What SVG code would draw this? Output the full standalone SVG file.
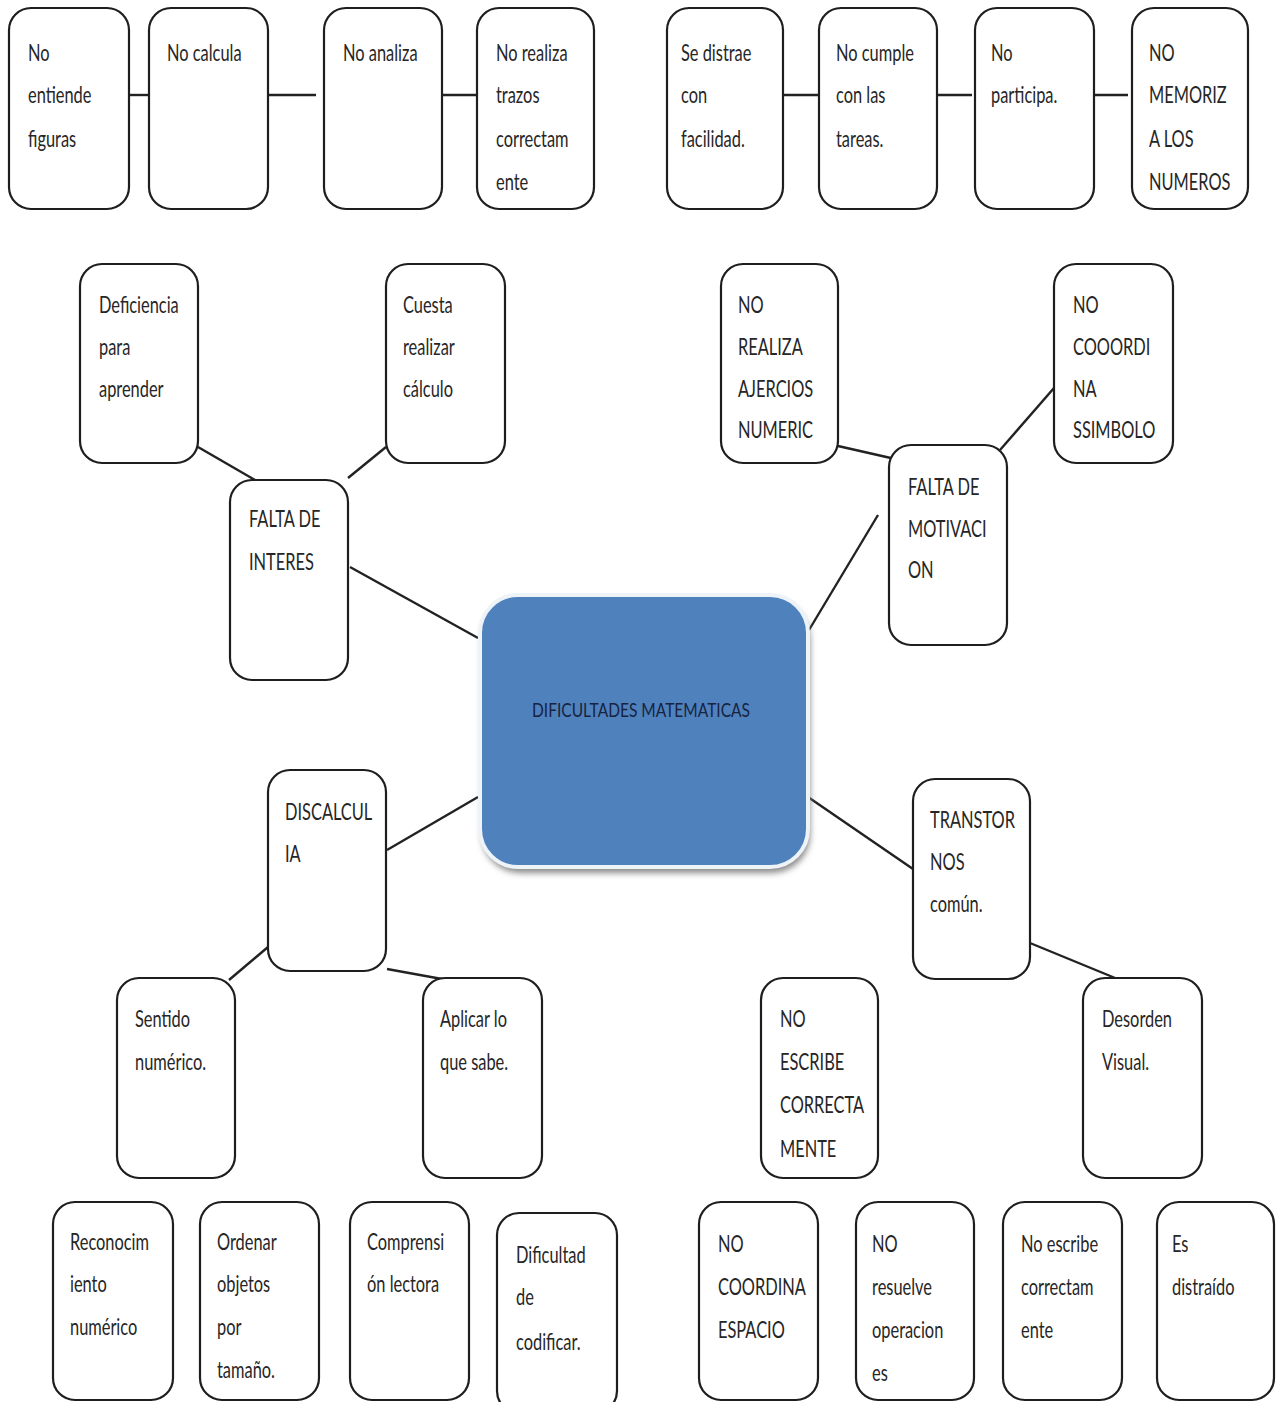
<svg xmlns="http://www.w3.org/2000/svg" width="1284" height="1402" viewBox="0 0 1284 1402">
<style>
.box{fill:#fff;stroke:#1e1e1e;stroke-width:2.2}
.t{font-family:Lato,"Liberation Sans",sans-serif;font-size:16.4px;fill:#262626}
.c{stroke:#222;stroke-width:2.4;fill:none}
.ct{font-family:Lato,"Liberation Sans",sans-serif;font-size:15px;fill:#17233f}
</style>
<defs>
<filter id="sh" x="-10%" y="-10%" width="120%" height="130%">
<feGaussianBlur stdDeviation="3"/>
</filter>
</defs>
<rect width="1284" height="1402" fill="#fff"/>
<g id="connectors">
<line class="c" x1="129" y1="95" x2="149" y2="95"/>
<line class="c" x1="268" y1="95" x2="316" y2="95"/>
<line class="c" x1="442" y1="95" x2="477" y2="95"/>
<line class="c" x1="783" y1="95" x2="819" y2="95"/>
<line class="c" x1="937" y1="95" x2="972" y2="95"/>
<line class="c" x1="1094" y1="95" x2="1128" y2="95"/>
<line class="c" x1="198" y1="447" x2="255" y2="480"/>
<line class="c" x1="386" y1="447" x2="348" y2="478"/>
<line class="c" x1="350" y1="567" x2="478" y2="638"/>
<line class="c" x1="838" y1="446" x2="904" y2="461"/>
<line class="c" x1="1000" y1="450" x2="1054" y2="388"/>
<line class="c" x1="878" y1="515" x2="809" y2="630"/>
<line class="c" x1="387" y1="850" x2="478" y2="797"/>
<line class="c" x1="229" y1="980" x2="268" y2="947"/>
<line class="c" x1="387" y1="969" x2="453" y2="981"/>
<line class="c" x1="808" y1="797" x2="913" y2="869"/>
<line class="c" x1="1030" y1="943" x2="1120" y2="980"/>
</g>
<g id="center">
<rect x="482" y="601" width="328" height="272" rx="38" fill="#8a8a8a" filter="url(#sh)"/>
<rect x="480" y="595" width="328" height="272" rx="38" fill="#4f81bd" stroke="#eef3f8" stroke-width="4"/>
<text class="ct" transform="scale(1,1.25)" x="532" y="573.6" textLength="218" lengthAdjust="spacingAndGlyphs">DIFICULTADES MATEMATICAS</text>
</g>
<g id="n1"><rect class="box" x="9" y="8" width="120" height="201" rx="22"/><text class="t" transform="scale(1,1.36)"><tspan x="28" y="44.85">No</tspan><tspan x="28" y="75.74">entiende</tspan><tspan x="28" y="108.09">figuras</tspan></text></g>
<g id="n2"><rect class="box" x="149" y="8" width="119" height="201" rx="22"/><text class="t" transform="scale(1,1.36)"><tspan x="167" y="44.85">No calcula</tspan></text></g>
<g id="n3"><rect class="box" x="324" y="8" width="118" height="201" rx="22"/><text class="t" transform="scale(1,1.36)"><tspan x="343" y="44.85">No analiza</tspan></text></g>
<g id="n4"><rect class="box" x="477" y="8" width="117" height="201" rx="22"/><text class="t" transform="scale(1,1.36)"><tspan x="496" y="44.85">No realiza</tspan><tspan x="496" y="75.74">trazos</tspan><tspan x="496" y="108.09">correctam</tspan><tspan x="496" y="139.71">ente</tspan></text></g>
<g id="n5"><rect class="box" x="667" y="8" width="116" height="201" rx="22"/><text class="t" transform="scale(1,1.36)"><tspan x="681" y="44.85">Se distrae</tspan><tspan x="681" y="75.74">con</tspan><tspan x="681" y="108.09">facilidad.</tspan></text></g>
<g id="n6"><rect class="box" x="819" y="8" width="118" height="201" rx="22"/><text class="t" transform="scale(1,1.36)"><tspan x="836" y="44.85">No cumple</tspan><tspan x="836" y="75.74">con las</tspan><tspan x="836" y="108.09">tareas.</tspan></text></g>
<g id="n7"><rect class="box" x="975" y="8" width="119" height="201" rx="22"/><text class="t" transform="scale(1,1.36)"><tspan x="991" y="44.85">No</tspan><tspan x="991" y="75.74">participa.</tspan></text></g>
<g id="n8"><rect class="box" x="1132" y="8" width="116" height="201" rx="22"/><text class="t" transform="scale(1,1.36)"><tspan x="1149" y="44.85">NO</tspan><tspan x="1149" y="75.74">MEMORIZ</tspan><tspan x="1149" y="108.09">A LOS</tspan><tspan x="1149" y="139.71">NUMEROS</tspan></text></g>
<g id="n9"><rect class="box" x="80" y="264" width="118" height="199" rx="22"/><text class="t" transform="scale(1,1.36)"><tspan x="99" y="230.15">Deficiencia</tspan><tspan x="99" y="261.03">para</tspan><tspan x="99" y="291.91">aprender</tspan></text></g>
<g id="n10"><rect class="box" x="386" y="264" width="119" height="199" rx="22"/><text class="t" transform="scale(1,1.36)"><tspan x="403" y="230.15">Cuesta</tspan><tspan x="403" y="261.03">realizar</tspan><tspan x="403" y="291.91">cálculo</tspan></text></g>
<g id="n11"><rect class="box" x="230" y="480" width="118" height="200" rx="22"/><text class="t" transform="scale(1,1.36)"><tspan x="249" y="387.5">FALTA DE</tspan><tspan x="249" y="419.12">INTERES</tspan></text></g>
<g id="n12"><rect class="box" x="721" y="264" width="117" height="199" rx="22"/><text class="t" transform="scale(1,1.36)"><tspan x="738" y="230.15">NO</tspan><tspan x="738" y="261.03">REALIZA</tspan><tspan x="738" y="291.91">AJERCIOS</tspan><tspan x="738" y="322.06">NUMERIC</tspan></text></g>
<g id="n13"><rect class="box" x="1054" y="264" width="119" height="199" rx="22"/><text class="t" transform="scale(1,1.36)"><tspan x="1073" y="230.15">NO</tspan><tspan x="1073" y="261.03">COOORDI</tspan><tspan x="1073" y="291.91">NA</tspan><tspan x="1073" y="322.06">SSIMBOLO</tspan></text></g>
<g id="n14"><rect class="box" x="889" y="445" width="118" height="200" rx="22"/><text class="t" transform="scale(1,1.36)"><tspan x="908" y="363.97">FALTA DE</tspan><tspan x="908" y="394.85">MOTIVACI</tspan><tspan x="908" y="425">ON</tspan></text></g>
<g id="n15"><rect class="box" x="268" y="770" width="118" height="201" rx="22"/><text class="t" transform="scale(1,1.36)"><tspan x="285" y="602.94">DISCALCUL</tspan><tspan x="285" y="633.82">IA</tspan></text></g>
<g id="n16"><rect class="box" x="117" y="978" width="118" height="200" rx="22"/><text class="t" transform="scale(1,1.36)"><tspan x="135" y="755.15">Sentido</tspan><tspan x="135" y="786.76">numérico.</tspan></text></g>
<g id="n17"><rect class="box" x="423" y="978" width="119" height="200" rx="22"/><text class="t" transform="scale(1,1.36)"><tspan x="440" y="755.15">Aplicar lo</tspan><tspan x="440" y="786.76">que sabe.</tspan></text></g>
<g id="n18"><rect class="box" x="913" y="779" width="117" height="200" rx="22"/><text class="t" transform="scale(1,1.36)"><tspan x="930" y="608.82">TRANSTOR</tspan><tspan x="930" y="639.71">NOS</tspan><tspan x="930" y="670.59">común.</tspan></text></g>
<g id="n19"><rect class="box" x="761" y="978" width="117" height="200" rx="22"/><text class="t" transform="scale(1,1.36)"><tspan x="780" y="755.15">NO</tspan><tspan x="780" y="786.76">ESCRIBE</tspan><tspan x="780" y="818.38">CORRECTA</tspan><tspan x="780" y="850.74">MENTE</tspan></text></g>
<g id="n20"><rect class="box" x="1083" y="978" width="119" height="200" rx="22"/><text class="t" transform="scale(1,1.36)"><tspan x="1102" y="755.15">Desorden</tspan><tspan x="1102" y="786.76">Visual.</tspan></text></g>
<g id="n21"><rect class="box" x="53" y="1202" width="120" height="198" rx="22"/><text class="t" transform="scale(1,1.36)"><tspan x="70" y="919.12">Reconocim</tspan><tspan x="70" y="950">iento</tspan><tspan x="70" y="981.62">numérico</tspan></text></g>
<g id="n22"><rect class="box" x="200" y="1202" width="119" height="198" rx="22"/><text class="t" transform="scale(1,1.36)"><tspan x="217" y="919.12">Ordenar</tspan><tspan x="217" y="950">objetos</tspan><tspan x="217" y="981.62">por</tspan><tspan x="217" y="1013.24">tamaño.</tspan></text></g>
<g id="n23"><rect class="box" x="350" y="1202" width="119" height="198" rx="22"/><text class="t" transform="scale(1,1.36)"><tspan x="367" y="919.12">Comprensi</tspan><tspan x="367" y="950">ón lectora</tspan></text></g>
<g id="n24"><rect class="box" x="497" y="1213" width="120" height="200" rx="22"/><text class="t" transform="scale(1,1.36)"><tspan x="516" y="928.68">Dificultad</tspan><tspan x="516" y="959.56">de</tspan><tspan x="516" y="992.65">codificar.</tspan></text></g>
<g id="n25"><rect class="box" x="699" y="1202" width="119" height="198" rx="22"/><text class="t" transform="scale(1,1.36)"><tspan x="718" y="920.59">NO</tspan><tspan x="718" y="952.21">COORDINA</tspan><tspan x="718" y="983.82">ESPACIO</tspan></text></g>
<g id="n26"><rect class="box" x="856" y="1202" width="118" height="198" rx="22"/><text class="t" transform="scale(1,1.36)"><tspan x="872" y="920.59">NO</tspan><tspan x="872" y="952.21">resuelve</tspan><tspan x="872" y="983.82">operacion</tspan><tspan x="872" y="1015.44">es</tspan></text></g>
<g id="n27"><rect class="box" x="1003" y="1202" width="119" height="198" rx="22"/><text class="t" transform="scale(1,1.36)"><tspan x="1021" y="920.59">No escribe</tspan><tspan x="1021" y="952.21">correctam</tspan><tspan x="1021" y="983.82">ente</tspan></text></g>
<g id="n28"><rect class="box" x="1157" y="1202" width="117" height="198" rx="22"/><text class="t" transform="scale(1,1.36)"><tspan x="1172" y="920.59">Es</tspan><tspan x="1172" y="952.21">distraído</tspan></text></g>
</svg>
